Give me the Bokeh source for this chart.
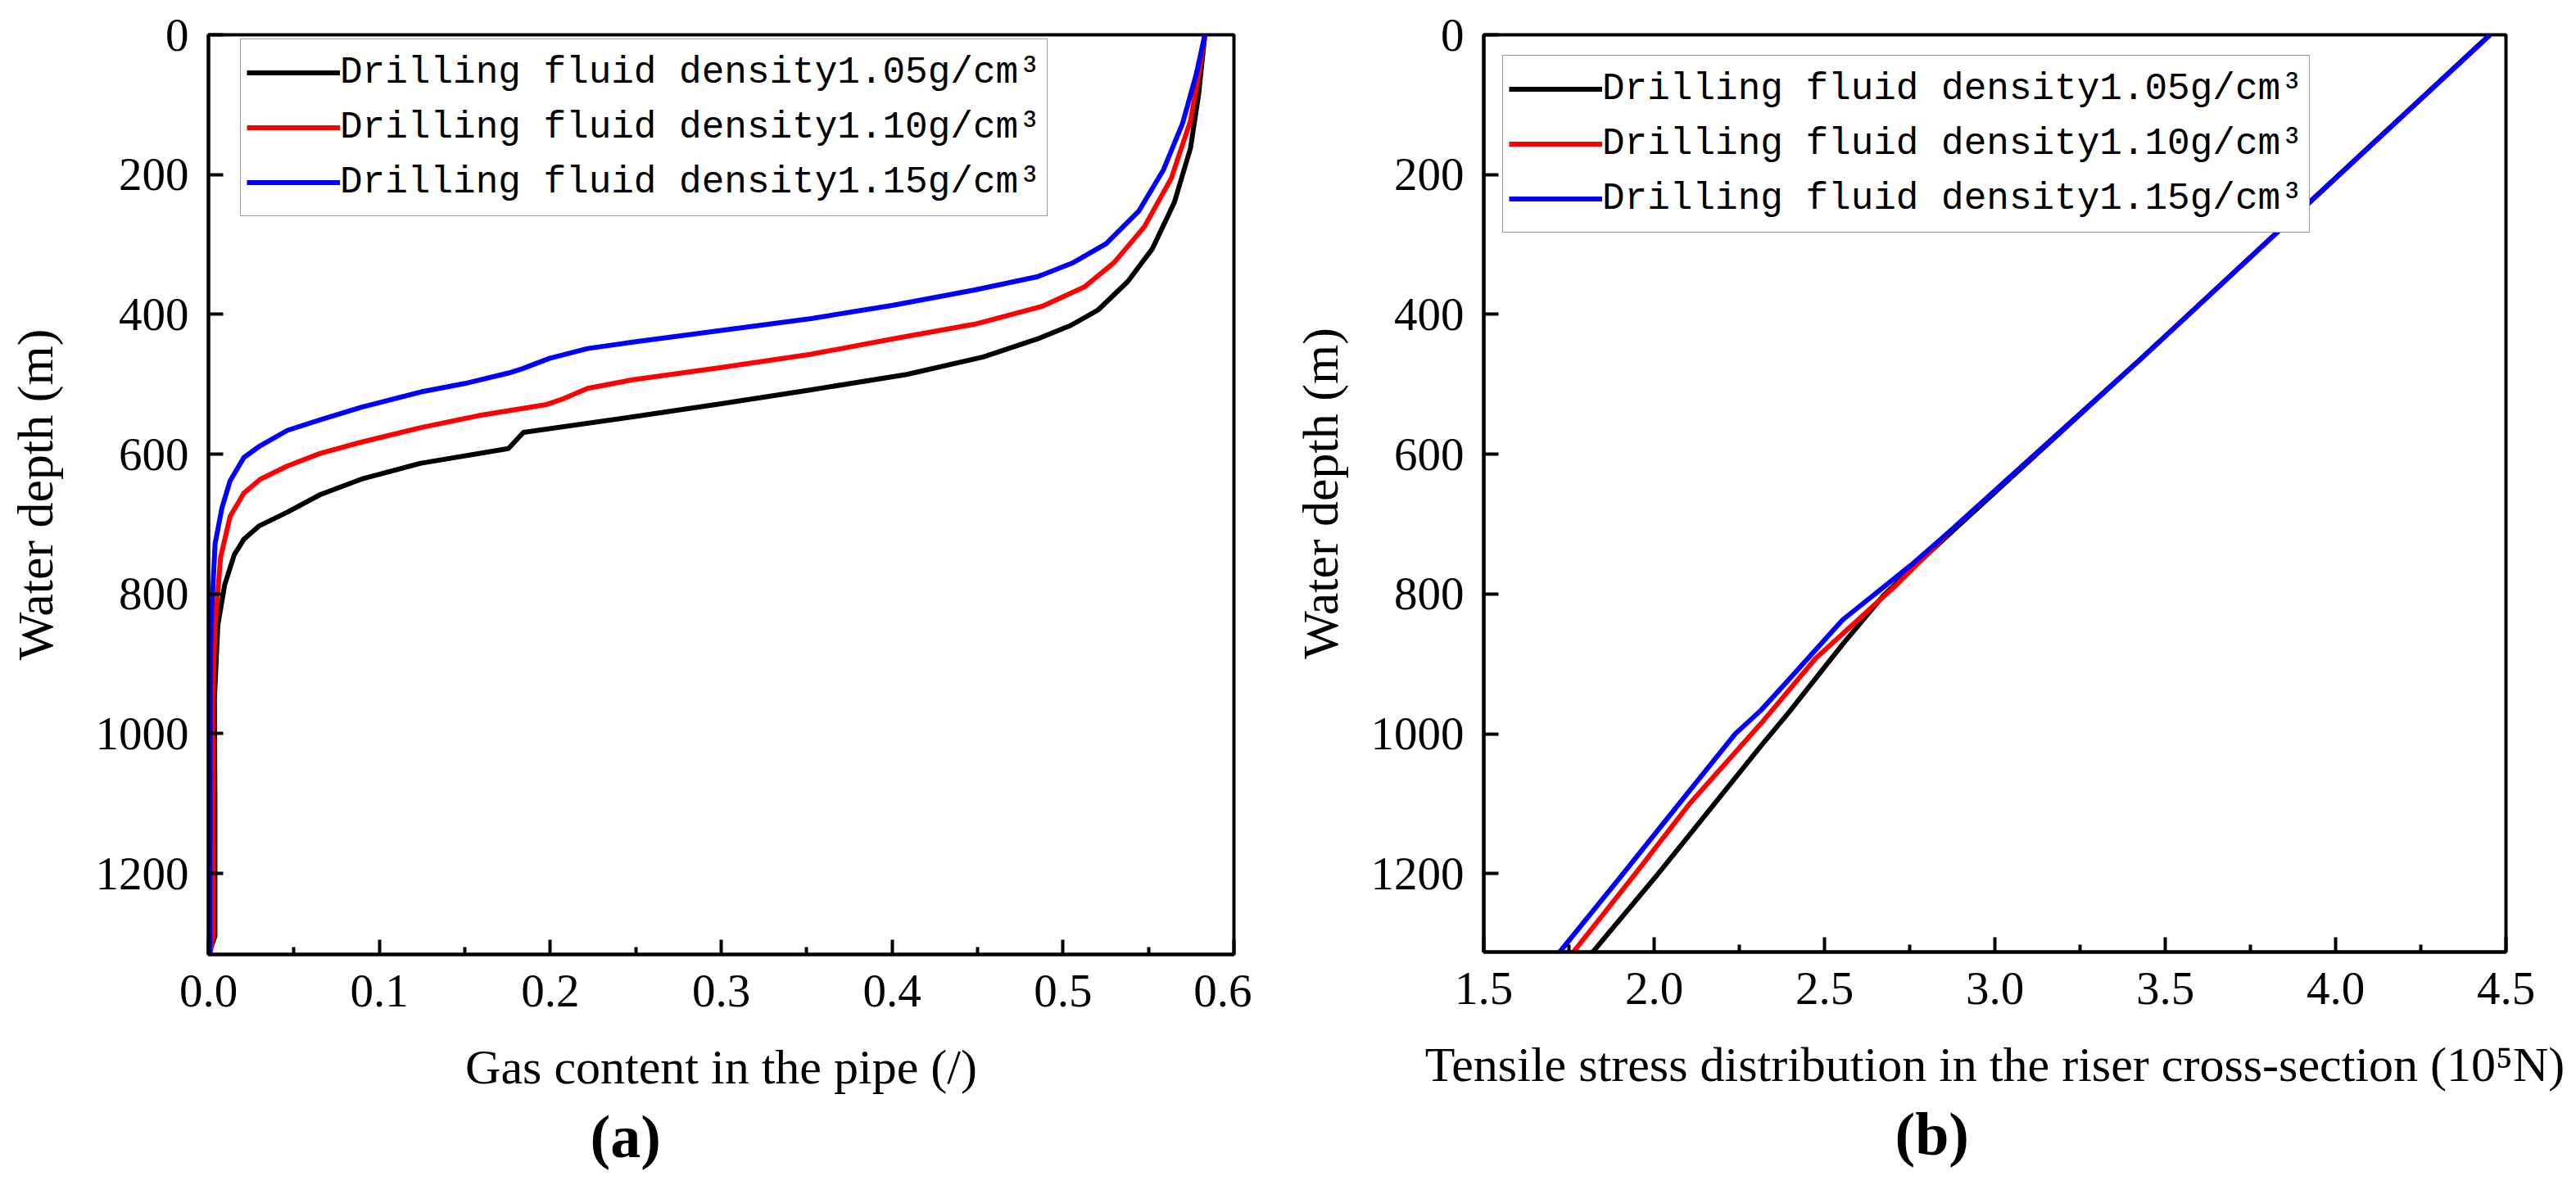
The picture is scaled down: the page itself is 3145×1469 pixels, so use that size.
from bokeh.plotting import figure
from bokeh.layouts import row
from bokeh.models import Range1d, FixedTicker, PrintfTickFormatter, Legend, LegendItem, Title
from bokeh.embed import file_html
from bokeh.resources import INLINE

# ---------------- data ----------------
series_names = ["Drilling fluid density1.05g/cm³",
                "Drilling fluid density1.10g/cm³",
                "Drilling fluid density1.15g/cm³"]
series_colors = ["#000000", "#ff0000", "#0000ff"]

# Panel (a): gas content in the pipe vs water depth
gas_105 = [0.583, 0.5794, 0.5746, 0.5651, 0.5523, 0.5379, 0.5204, 0.5044, 0.4853, 0.4533,
           0.4086, 0.3527, 0.300, 0.2474, 0.1843, 0.1755, 0.1244, 0.0893, 0.0654, 0.0462,
           0.0295, 0.0207, 0.0151, 0.0095, 0.0055, 0.0035, 0.0038, 0.0038, 0.0]
depth_105 = [0, 84, 162, 240, 306, 353, 394, 416, 435, 461,
             486, 508, 528, 547, 569, 592, 613, 636, 658, 683,
             703, 722, 744, 787, 845, 950, 1100, 1290, 1316]

gas_110 = [0.583, 0.5802, 0.5746, 0.5634, 0.5475, 0.5299, 0.5124, 0.4884, 0.4485, 0.4006,
           0.3527, 0.300, 0.2474, 0.2218, 0.2075, 0.1979, 0.158, 0.1244, 0.0893, 0.0654,
           0.0462, 0.0303, 0.0207, 0.0127, 0.0071, 0.0039, 0.0025, 0.0028, 0.0028, 0.0008]
depth_110 = [0, 45, 123, 205, 275, 326, 361, 388, 414, 435,
             457, 476, 494, 506, 521, 529, 545, 562, 583, 599,
             617, 636, 656, 689, 748, 845, 950, 1100, 1290, 1316]

gas_115 = [0.583, 0.5779, 0.5699, 0.5588, 0.5444, 0.5252, 0.506, 0.4853, 0.4485, 0.4006,
           0.3527, 0.300, 0.2474, 0.2218, 0.1995, 0.1835, 0.1755, 0.150, 0.1244, 0.0893,
           0.0654, 0.0462, 0.0303, 0.0207, 0.0127, 0.0079, 0.0039, 0.0015, 0.0010, 0.0008]
depth_115 = [0, 57, 127, 193, 252, 299, 326, 346, 365, 387,
             406, 423, 440, 449, 463, 478, 484, 499, 511, 533,
             551, 566, 588, 605, 638, 677, 728, 845, 950, 1316]

# Panel (b): tensile stress (1e5 N) vs water depth
stress_105 = [4.453, 3.432, 2.889, 2.793, 2.673, 2.553, 2.394, 2.314, 2.012, 1.820]
sdepth_105 = [0, 462, 704, 747, 802, 872, 970, 1017, 1200, 1312]

stress_110 = [4.453, 3.432, 2.873, 2.713, 2.474, 2.314, 2.104, 1.945, 1.763]
sdepth_110 = [0, 462, 708, 786, 892, 985, 1100, 1200, 1312]

stress_115 = [4.453, 3.432, 2.873, 2.753, 2.553, 2.394, 2.314, 2.238, 2.073, 1.909, 1.723]
sdepth_115 = [0, 462, 708, 759, 837, 923, 966, 1000, 1100, 1200, 1312]

depth_ticks = [0, 200, 400, 600, 800, 1000, 1200]
gas_ticks = [0.0, 0.1, 0.2, 0.3, 0.4, 0.5, 0.6]
gas_minor = [0.05, 0.15, 0.25, 0.35, 0.45, 0.55]
stress_ticks = [1.5, 2.0, 2.5, 3.0, 3.5, 4.0, 4.5]
stress_minor = [1.75, 2.25, 2.75, 3.25, 3.75, 4.25]

SERIF = "Liberation Serif"
MONO = "Liberation Mono"


def style_axes(p, xticks, xminor, xfmt, ylab_standoff):
    p.xaxis.ticker = FixedTicker(ticks=xticks, minor_ticks=xminor)
    p.yaxis.ticker = FixedTicker(ticks=depth_ticks)
    p.xaxis.formatter = PrintfTickFormatter(format=xfmt)
    p.yaxis.formatter = PrintfTickFormatter(format="%d")
    for ax in (p.xaxis, p.yaxis):
        ax.axis_line_width = 4
        ax.axis_line_color = "black"
        ax.major_tick_in = 18
        ax.major_tick_out = 0
        ax.minor_tick_in = 9
        ax.minor_tick_out = 0
        ax.major_tick_line_width = 4
        ax.minor_tick_line_width = 4
        ax.major_label_text_font = SERIF
        ax.major_label_text_font_size = "57px"
        ax.major_label_text_color = "black"
        ax.axis_label_text_font = SERIF
        ax.axis_label_text_font_style = "normal"
        ax.axis_label_text_color = "black"
    p.yaxis.minor_tick_line_color = None
    p.xaxis.major_label_standoff = 25
    p.yaxis.major_label_standoff = 24
    p.xaxis.axis_label_text_font_size = "60px"
    p.yaxis.axis_label_text_font_size = "62px"
    p.xaxis.axis_label_standoff = 38
    p.yaxis.axis_label_standoff = ylab_standoff
    p.xgrid.grid_line_color = None
    p.ygrid.grid_line_color = None
    p.outline_line_color = "black"
    p.outline_line_width = 4
    p.outline_line_alpha = 1.0


def add_legend(p, renderers, loc):
    items = [LegendItem(label=n, renderers=[r]) for n, r in zip(series_names, renderers)]
    lg = Legend(items=items, location=loc, orientation="vertical",
                label_text_font=MONO, label_text_font_size="46px",
                label_text_color="black",
                glyph_width=114, glyph_height=67, label_height=67,
                label_standoff=0, padding=7, spacing=0, margin=0,
                border_line_color="#3a3a3a", border_line_width=1.5,
                background_fill_color="white", background_fill_alpha=1.0)
    p.add_layout(lg, "center")


def add_panel_tag(p, text, offset):
    t = Title(text=text, align="left", vertical_align="top", offset=offset, standoff=16,
              text_font=SERIF, text_font_size="74px", text_font_style="bold",
              text_color="black")
    p.add_layout(t, "below")


# ---------------- panel (a) ----------------
pa = figure(frame_width=1252, frame_height=1123,
            min_border_left=254, min_border_right=22,
            min_border_top=42, min_border_bottom=300,
            x_range=Range1d(0.0, 0.6), y_range=Range1d(1316, 0),
            output_backend="svg", toolbar_location=None,
            background_fill_color="white", border_fill_color="white")
pa.xaxis.axis_label = "Gas content in the pipe (/)"
pa.yaxis.axis_label = "Water depth (m)"
style_axes(pa, gas_ticks, gas_minor, "%.1f", 37)

ra = []
for xs, ys, c in ((gas_105, depth_105, series_colors[0]),
                  (gas_110, depth_110, series_colors[1]),
                  (gas_115, depth_115, series_colors[2])):
    ra.append(pa.line(xs, ys, line_color=c, line_width=6, line_join="round"))
add_legend(pa, ra, (39, 901))
add_panel_tag(pa, "(a)", 466)

# ---------------- panel (b) ----------------
pb = figure(frame_width=1248, frame_height=1120,
            min_border_left=283, min_border_right=80,
            min_border_top=36, min_border_bottom=309,
            x_range=Range1d(1.5, 4.5), y_range=Range1d(1312, 0),
            output_backend="svg", toolbar_location=None,
            background_fill_color="white", border_fill_color="white")
pb.xaxis.axis_label = "Tensile stress distribution in the riser cross-section (10⁵N)"
pb.yaxis.axis_label = "Water depth (m)"
style_axes(pb, stress_ticks, stress_minor, "%.1f", 25)

rb = []
for xs, ys, c in ((stress_105, sdepth_105, series_colors[0]),
                  (stress_110, sdepth_110, series_colors[1]),
                  (stress_115, sdepth_115, series_colors[2])):
    rb.append(pb.line(xs, ys, line_color=c, line_width=6, line_join="round"))
add_legend(pb, rb, (23, 878))
add_panel_tag(pb, "(b)", 502)

layout = row(pa, pb)
open("out.html", "w").write(file_html(layout, INLINE))
